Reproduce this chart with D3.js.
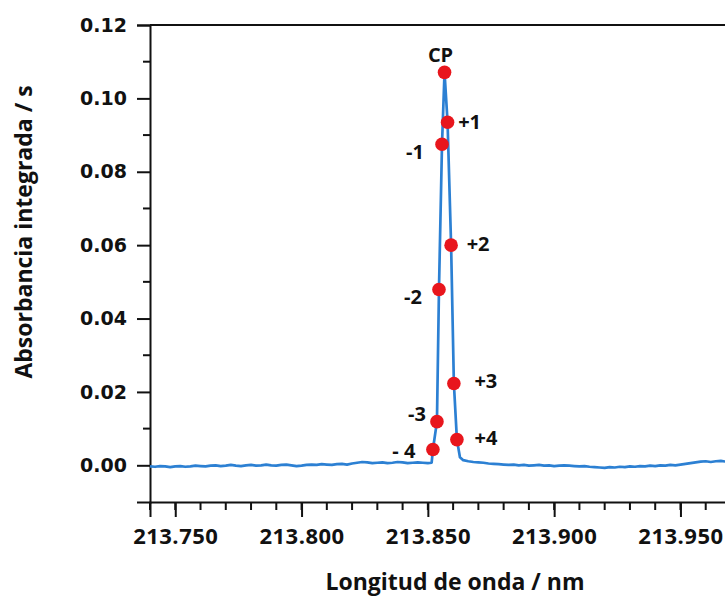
<!DOCTYPE html>
<meta charset="utf-8">
<head>
    <title>Absorbancia integrada vs longitud de onda</title>
    <style>
        body { margin: 0; background: #fff; }
        svg { display: block; }
        .ytick text { font-family: "DejaVu Sans", sans-serif; font-weight: bold; font-size: 19px; }
        .xtick text { font-family: "Open Sans", sans-serif; font-weight: bold; font-size: 22px; }
        .title { font-family: "Open Sans", sans-serif; font-weight: bold; font-size: 23px; fill: #111; }
        .lbl { font-family: "Open Sans", sans-serif; font-weight: bold; font-size: 20px; fill: #111; }
    </style>
</head>
<body>
<script src="https://cdn.jsdelivr.net/npm/d3@7"></script>
<script>
    // baseline grid (nm) and hand-read absorbance (x1e-4) off the picture
    var leftStart = 213.740, rightStart = 213.864, step = 0.002;
    var leftBase = [-3,-4,-2,-3,-5,-3,-2,-4,-3,-1, -2,-3,-1,0,-2,-1,1,-1,-2,0,
                    1,-1,0,2,0,-1,1,2,0,-2, -1,1,2,1,3,2,1,3,4,2,
                    5,7,9,8,6,7,8,6,7,9, 8,6,7,8,7,6];
    var rightBase = [14,11,9,8,7,5,4,3,2,1, 2,0,1,-1,0,1,-1,0,-2,-1,
                     0,-1,-2,-3,-2,-4,-5,-6,-7,-5, -6,-4,-5,-3,-4,-2,-3,-1,-2,0,
                     -1,1,0,2,4,6,8,10,11,9, 11,12,10,11];

    // marked points on the peak
    var markLabels = ["- 4", "-3", "-2", "-1", "CP", "+1", "+2", "+3", "+4"];
    var markWl  = [213.8520, 213.8536, 213.8544, 213.8556, 213.8566, 213.8578, 213.8592, 213.8603, 213.8615];
    var markAbs = [0.0043, 0.0119, 0.0479, 0.0875, 0.1071, 0.0935, 0.0600, 0.0223, 0.0070];
    // foot of the peak either side
    var edgeWl = [213.8515, 213.8627];
    var edgeAbs = [0.0007, 0.0022];

    var yTicks = [0.00, 0.02, 0.04, 0.06, 0.08, 0.10, 0.12];
    var xTicks = [213.750, 213.800, 213.850, 213.900, 213.950];

    var width = 725, height = 603;
    var margin = { top: 25, left: 150, bottom: 101 };

    var svg = d3.select("body").append("svg")
        .attr("width", width).attr("height", height);

    var x = d3.scaleLinear().domain([213.74, 213.97]).range([margin.left, margin.left + 0.23 * 2526]);
    var y = d3.scaleLinear().domain([-0.01, 0.12]).range([height - margin.bottom, margin.top]);

    // build line data
    var line_data = [];
    leftBase.forEach(function (v, i) { line_data.push([leftStart + i * step, v / 10000]); });
    line_data.push([edgeWl[0], edgeAbs[0]]);
    markWl.forEach(function (w, i) { line_data.push([w, markAbs[i]]); });
    line_data.push([edgeWl[1], edgeAbs[1]]);
    rightBase.forEach(function (v, i) { line_data.push([rightStart + i * step, v / 10000]); });

    // top frame
    svg.append("line")
        .attr("x1", x.range()[0]).attr("x2", x.range()[1])
        .attr("y1", y(0.12)).attr("y2", y(0.12))
        .attr("stroke", "#111").attr("stroke-width", 2);

    // y axis
    var yAxis = svg.append("g").attr("class", "ytick")
        .attr("transform", "translate(" + x.range()[0] + ",0)")
        .call(d3.axisLeft(y).tickValues(yTicks).tickFormat(d3.format(".2f")).tickSizeOuter(0).tickSize(13).tickPadding(10));
    yAxis.selectAll(".tick text").attr("fill", "#111");
    yAxis.selectAll("line, path").attr("stroke", "#111").attr("stroke-width", 2);
    yAxis.selectAll(".minor").data(d3.range(-1, 12, 2).map(function (d) { return d / 100; }).filter(function (d) { return d > -0.01; }))
        .enter().append("line")
        .attr("x1", -7).attr("x2", 0)
        .attr("y1", function (d) { return y(d); }).attr("y2", function (d) { return y(d); })
        .attr("stroke", "#111").attr("stroke-width", 2);

    // x axis
    var xAxis = svg.append("g").attr("class", "xtick")
        .attr("transform", "translate(0," + y(-0.01) + ")")
        .call(d3.axisBottom(x).tickValues(xTicks).tickFormat(d3.format(".3f")).tickSizeOuter(0).tickSize(15).tickPadding(11));
    xAxis.selectAll(".tick text").attr("fill", "#111").attr("letter-spacing", "0.5px");
    xAxis.selectAll("line, path").attr("stroke", "#111").attr("stroke-width", 2);
    xAxis.selectAll(".minor").data(d3.range(213.74, 213.975, 0.01))
        .enter().append("line")
        .attr("x1", function (d) { return x(d); }).attr("x2", function (d) { return x(d); })
        .attr("y1", 0).attr("y2", 8)
        .attr("stroke", "#111").attr("stroke-width", 2);

    // spectrum
    svg.append("path")
        .datum(line_data)
        .attr("fill", "none")
        .attr("stroke", "#2c80d3")
        .attr("stroke-width", 2.7)
        .attr("stroke-linejoin", "round")
        .attr("d", d3.line().x(function (d) { return x(d[0]); }).y(function (d) { return y(d[1]); }));

    // red points
    svg.append("g").selectAll("circle")
        .data(markWl).enter().append("circle")
        .attr("cx", function (d) { return x(d); })
        .attr("cy", function (d, i) { return y(markAbs[i]); })
        .attr("r", 6.8)
        .attr("fill", "#e8161d");

    // point labels (offsets from the point, px)
    var lblOffset = [[-29, 1], [-20, -8], [-26, 7], [-27, 7], [-4, -18], [22, -1], [27, -2], [32, -3], [29, -2]];
    svg.append("g").selectAll("text")
        .data(markLabels).enter().append("text")
        .attr("class", "lbl")
        .attr("x", function (d, i) { return x(markWl[i]) + lblOffset[i][0]; })
        .attr("y", function (d, i) { return y(markAbs[i]) + lblOffset[i][1]; })
        .attr("text-anchor", "middle")
        .attr("dominant-baseline", "central")
        .text(function (d) { return d; });

    // axis titles
    svg.append("text").attr("class", "title")
        .attr("x", 455).attr("y", 590)
        .attr("text-anchor", "middle")
        .text("Longitud de onda / nm");

    svg.append("text").attr("class", "title")
        .attr("transform", "translate(32,232) rotate(-90)")
        .attr("text-anchor", "middle")
        .text("Absorbancia integrada / s");
</script>
</body>
</html>
